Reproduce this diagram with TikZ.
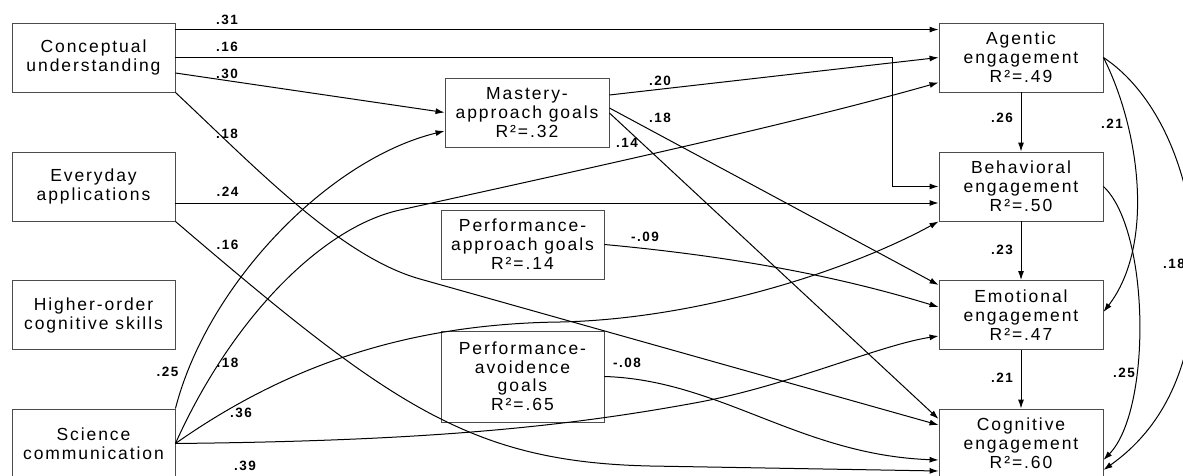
\documentclass[tikz,border=0pt]{standalone}
\usepackage{fontspec}
\setmainfont{Liberation Sans}[LetterSpace=11]
\usetikzlibrary{arrows.meta}

\tikzset{
  kasten/.style={draw=black!70, line width=0.9pt, minimum width=163pt, minimum height=69pt,
    inner sep=0pt, align=center, font=\fontsize{17.5}{19}\selectfont},
  pfeil/.style={-{Latex[length=9pt,width=6pt]}, line width=1pt},
  wert/.style={font=\bfseries\fontsize{13.5}{13.5}\selectfont, inner sep=0pt},
}

\begin{document}
\begin{tikzpicture}[x=1pt, y=-1pt]
\useasboundingbox (0,0) rectangle (1183,476);

% Kaesten
\node[kasten] (cu) at (93.5,57.5) {Conceptual\\understanding};
\node[kasten] (ea) at (93.5,186.5) {Everyday\\applications};
\node[kasten] (hocs) at (93.5,315) {Higher-order\\cognitive skills};
\node[kasten] (sc) at (93.5,443.5) {Science\\communication};

\node[kasten, minimum width=164pt] (mag) at (527,112.5) {Mastery-\\approach goals\\R²=.32};
\node[kasten] (pag) at (522.5,244.5) {Performance-\\approach goals\\R²=.14};
\node[kasten, minimum height=91pt, font=\fontsize{17.5}{18.5}\selectfont] (pavg) at (522.5,376.5) {Performance-\\avoidence\\goals\\R²=.65};

\node[kasten, minimum width=164pt] (ae) at (1021,57.5) {Agentic\\engagement\\R²=.49};
\node[kasten, minimum width=164pt] (be) at (1021,186.5) {Behavioral\\engagement\\R²=.50};
\node[kasten, minimum width=164pt] (ee) at (1021,315) {Emotional\\engagement\\R²=.47};
\node[kasten, minimum width=164pt] (ce) at (1021,443.5) {Cognitive\\engagement\\R²=.60};

% Pfade
\draw[pfeil] ([yshift=-7pt]cu.north east) -- ([yshift=-7pt]ae.north west);
\draw[pfeil] (cu.east) -| ([xshift=-46pt]be.west) -- (be.west);
\draw[pfeil] ([yshift=-15.5pt]cu.east) -- (mag.west);
\draw[pfeil] (cu.south east) .. controls (255,167) and (340,256.5) .. (420,279) -- ([yshift=18.5pt]ce.west);
\draw[pfeil] ([yshift=-16.5pt]ea.east) -- ([yshift=-16.5pt]be.west);
\draw[pfeil] (ea.south east) .. controls (390,405) and (470,462) .. (650,466) -- ([yshift=-27.5pt]ce.west);
\draw[pfeil] (sc.north east) .. controls (207.5,283.6) and (329,159) .. ([yshift=-18.5pt]mag.west);
\draw[pfeil] (sc.east) .. controls (230.6,320.6) and (320.6,227.4) .. (400,210)
  .. controls (600,166) and (800,122) .. ([yshift=-25pt]ae.west);
\draw[pfeil] (sc.east) .. controls (280,370) and (400,324) .. (560,322)
  .. controls (700,319) and (850,270) .. (be.south west);
\draw[pfeil] (sc.east) .. controls (420,441) and (560,428) .. (700,402)
  .. controls (790,385) and (880,345) .. ([yshift=-21pt]ee.west);

\draw[pfeil] ([yshift=17.5pt]mag.east) -- (ae.west);
\draw[pfeil] ([yshift=4.5pt]mag.east) -- ([yshift=30pt]ee.west);
\draw[pfeil] ([yshift=-0.5pt]mag.east) -- ([yshift=24.5pt]ce.west);
\draw[pfeil] (pag.east) .. controls (750,258) and (850,280) .. ([yshift=8pt]ee.west);
\draw[pfeil] (pavg.east) .. controls (720,380) and (800,455) .. ([yshift=-16.5pt]ce.west);

\draw[pfeil] (ae) -- (be);
\draw[pfeil] (be) -- (ee);
\draw[pfeil] (ee) -- (ce);
\draw[pfeil] (ae.east) .. controls (1140,130) and (1155,245) .. ([yshift=3pt]ee.east);
\draw[pfeil] (ae.east) .. controls (1160,95) and (1195,180) .. (1195,270)
  .. controls (1195,370) and (1160,430) .. ([yshift=-26.5pt]ce.east);
\draw[pfeil] (be.east) .. controls (1150,230) and (1152,410) .. ([yshift=-16.5pt]ce.east);

% Koeffizienten
\node[wert] (w31) at (227,20) {.31};
\node[wert] (w16a) at (227,47) {.16};
\node[wert] (w30) at (227,74) {.30};
\node[wert] (w18a) at (227,134) {.18};
\node[wert] (w24) at (227.5,192) {.24};
\node[wert] (w16b) at (227.5,245) {.16};
\node[wert] (w18b) at (227.5,363) {.18};
\node[wert] (w25a) at (167.5,372) {.25};
\node[wert] (w36) at (241,413) {.36};
\node[wert] (w39) at (245,466) {.39};
\node[wert] (w20) at (660,81) {.20};
\node[wert] (w18c) at (660,118) {.18};
\node[wert] (w14) at (627,143) {.14};
\node[wert] (w09) at (645,237) {-.09};
\node[wert] (w08) at (627,363) {-.08};
\node[wert] (w26) at (1002,118) {.26};
\node[wert] (w23) at (1002,250) {.23};
\node[wert] (w21a) at (1002,378) {.21};
\node[wert] (w21b) at (1112,124) {.21};
\node[wert] (w25b) at (1124,373) {.25};
\node[wert] (w18d) at (1174,264) {.18};
\end{tikzpicture}
\end{document}
